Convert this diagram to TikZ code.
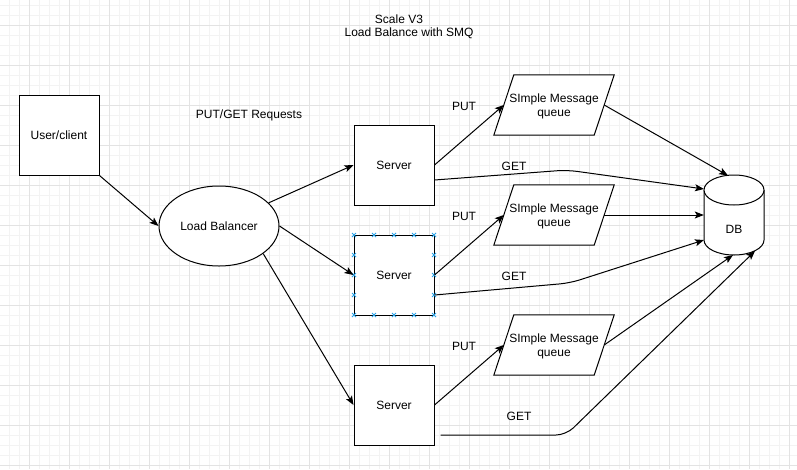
\documentclass[tikz,border=0pt]{standalone}
\usepackage{fontspec}
\setmainfont{Liberation Sans}
\usetikzlibrary{arrows.meta,calc,shapes.geometric}
\definecolor{gridminor}{HTML}{F3F3F3}
\definecolor{gridmajor}{HTML}{E3E3E3}
\definecolor{selblue}{HTML}{29A3E8}
\tikzset{
 conn/.style={draw, line width=1pt, -{Stealth[length=9pt,width=7pt,inset=2pt]}},
 txt/.style={font=\fontsize{12}{14}\selectfont},
 box/.style={draw, fill=white, line width=1pt, minimum width=80pt, minimum height=80pt, inner sep=0pt, txt},
 lbl/.style={inner sep=0pt, txt},
 smqslot/.style={minimum width=100pt, minimum height=60pt, inner sep=0pt, align=center, txt},
 selmark/.style={draw=selblue, line width=0.8pt},
}
\begin{document}
\begin{tikzpicture}[x=1pt,y=-1pt]
\useasboundingbox (0,0) rectangle (797,469);
\fill[white] (0,0) rectangle (797,469);
% grid
\foreach \x in {9,19,...,789} \draw[gridminor, line width=0.8pt] (\x,0) -- (\x,469);
\foreach \y in {5,15,...,465} \draw[gridminor, line width=0.8pt] (0,\y) -- (797,\y);
\foreach \x in {29,69,...,789} \draw[gridmajor, line width=0.8pt] (\x,0) -- (\x,469);
\foreach \y in {25,65,...,465} \draw[gridmajor, line width=0.8pt] (0,\y) -- (797,\y);

% titles
\node[lbl] (title1) at (399,19) {Scale V3};
\node[lbl] (title2) at (409,33) {Load Balance with SMQ};
\node[lbl] (req) at (249,115) {PUT/GET Requests};

% nodes
\node[box] (user) at (59,135) {User/client};
\node[draw, fill=white, ellipse, line width=1pt, minimum width=120pt, minimum height=80pt, inner sep=0pt, txt] (lb) at (219,226) {Load Balancer};
\node[box] (s1) at (394,165) {Server};
\node[box] (s2) at (394,275) {Server};
\node[box] (s3) at (394,405) {Server};

% message queues
\node[smqslot] (q1) at (554,105) {};
\node[smqslot] (q2) at (554,215) {};
\node[smqslot] (q3) at (554,345) {};
\foreach \q in {q1,q2,q3} {
  \draw[fill=white, line width=1pt] ($(\q.north west)+(10,0)$) -- ($(\q.north east)+(10,0)$) -- ($(\q.south east)+(-10,0)$) -- ($(\q.south west)+(-10,0)$) -- cycle;
  \node[lbl, align=center] at ($(\q.center)+(0,1)$) {SImple Message\\queue};
}

% DB cylinder
\node[minimum width=60pt, minimum height=80pt, inner sep=0pt] (db) at (734,215) {};
\draw[fill=white, line width=1pt] (704,190) -- (704,240) arc[start angle=180, end angle=360, x radius=30pt, y radius=15pt] -- (764,190);
\draw[fill=white, line width=1pt] (734,190) ellipse[x radius=30pt, y radius=15pt];
\node[lbl] (dblabel) at (734,229) {DB};
\coordinate (db1) at (704,189);
\coordinate (db2) at (728,175.5);
\coordinate (db3) at (704,240);
\coordinate (db4) at (733,255);
\coordinate (db5) at (755,251);

% selection marks on server 2
\foreach \i in {0,...,4} {
  \foreach \yy in {235,315} {
    \draw[selmark] ($(354+20*\i,\yy)+(-2,-2)$) -- ++(4,4);
    \draw[selmark] ($(354+20*\i,\yy)+(-2,2)$) -- ++(4,-4);
  }
}
\foreach \yy in {255,275,295} {
  \foreach \xx in {354,434} {
    \draw[selmark] ($(\xx,\yy)+(-2,-2)$) -- ++(4,4);
    \draw[selmark] ($(\xx,\yy)+(-2,2)$) -- ++(4,-4);
  }
}

% connectors
\draw[conn] (user.south east) -- (lb.west);
\draw[conn] (lb.25) -- (s1.west);
\draw[conn] (lb.east) -- (s2.west);
\draw[conn] (lb.-32) -- (s3.west);

\draw[conn] (s1.east) -- (q1.west);
\draw[conn] (s2.east) -- (q2.west);
\draw[conn] (s3.east) -- (q3.west);

\draw[conn] (q1.east) -- (db2);
\draw[conn] (q2.east) -- (db.west);
\draw[conn] (q3.east) -- (db4);

\draw[conn, rounded corners=10pt] ([yshift=-15pt]s1.east) -- (567,170) -- (db1);
\draw[conn, rounded corners=10pt] ([yshift=-20pt]s2.east) -- (570,283) -- (db3);
\draw[conn, rounded corners=10pt] ([xshift=6pt,yshift=-30pt]s3.east) -- (566,435) -- (db5);

% labels
\node[lbl] (put1) at (464,106) {PUT};
\node[lbl] (put2) at (464,216) {PUT};
\node[lbl] (put3) at (464,346) {PUT};
\node[lbl] (get1) at (514,166) {GET};
\node[lbl] (get2) at (514,276) {GET};
\node[lbl] (get3) at (519,416) {GET};
\end{tikzpicture}
\end{document}
